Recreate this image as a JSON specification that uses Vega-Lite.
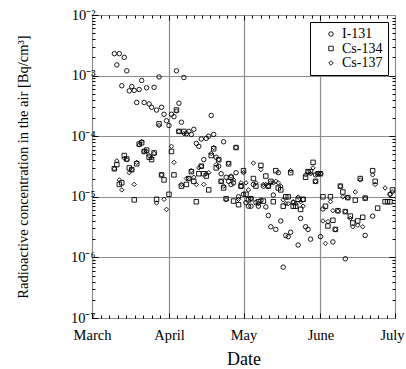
{
  "$schema": "https://vega.github.io/schema/vega-lite/v6.json",
  "width": 303,
  "height": 303,
  "autosize": {"type": "none"},
  "padding": {"left": 92, "top": 15, "right": 11, "bottom": 51},
  "background": "white",
  "config": {
    "font": "Liberation Serif",
    "view": {"stroke": "black", "strokeWidth": 1},
    "axis": {"domain": false, "tickColor": "black", "labelColor": "black", "titleColor": "black", "labelFont": "Liberation Serif", "titleFont": "Liberation Serif", "labelFontSize": 14.5, "titleFontSize": 14.5, "titleFontWeight": "normal", "gridColor": "#8c8c8c", "gridWidth": 1.2, "gridOpacity": 1},
    "legend": {"orient": "none", "legendX": 218, "legendY": 7, "strokeColor": "black", "fillColor": "white", "padding": 5, "labelFont": "Liberation Serif", "labelFontSize": 14, "labelColor": "black", "symbolStrokeColor": "black", "symbolStrokeWidth": 0.9, "symbolSize": 20, "symbolOffset": 9, "labelOffset": 4, "rowPadding": 0.5}
  },
  "data": {"values": [
    {"date": "2011-03-10", "I-131": 2.3e-3, "Cs-134": 2.9e-5, "Cs-137": 2.9e-5},
    {"date": "2011-03-11", "I-131": 1.5e-3, "Cs-134": 3.4e-5, "Cs-137": 3.9e-5},
    {"date": "2011-03-12", "I-131": 2.3e-3, "Cs-134": 1.6e-5, "Cs-137": 1.9e-5},
    {"date": "2011-03-13", "I-131": 6.8e-4, "Cs-134": 1.7e-5, "Cs-137": 1.3e-5},
    {"date": "2011-03-14", "I-131": 2.0e-3, "Cs-134": 4.8e-5, "Cs-137": 4.3e-5},
    {"date": "2011-03-15", "I-131": 1.2e-3, "Cs-134": 4.2e-5, "Cs-137": 4.1e-5},
    {"date": "2011-03-16", "I-131": 5.6e-4, "Cs-134": 3.0e-5, "Cs-137": 2.5e-5},
    {"date": "2011-03-17", "I-131": 6.6e-4, "Cs-134": 2.8e-5, "Cs-137": 2.8e-5},
    {"date": "2011-03-18", "I-131": 5.7e-4, "Cs-134": 8.9e-6, "Cs-137": 1.6e-5},
    {"date": "2011-03-19", "I-131": 3.6e-4, "Cs-134": 3.5e-5, "Cs-137": 3.7e-5},
    {"date": "2011-03-20", "I-131": 5.9e-4, "Cs-134": 7.4e-5, "Cs-137": 7.2e-5},
    {"date": "2011-03-21", "I-131": 8.3e-4, "Cs-134": 7.8e-5, "Cs-137": 8.2e-5},
    {"date": "2011-03-22", "I-131": 3.6e-4, "Cs-134": 5.6e-5, "Cs-137": 5.6e-5},
    {"date": "2011-03-23", "I-131": 6.3e-4, "Cs-134": 5.9e-5, "Cs-137": 5.6e-5},
    {"date": "2011-03-24", "I-131": 3.4e-4, "Cs-134": 4.5e-5, "Cs-137": 4.8e-5},
    {"date": "2011-03-25", "I-131": 3.0e-4, "Cs-134": 4.1e-5, "Cs-137": 4.4e-5},
    {"date": "2011-03-26", "I-131": 6.4e-4, "Cs-134": 5.3e-5, "Cs-137": 5.2e-5},
    {"date": "2011-03-27", "I-131": 2.7e-4, "Cs-134": 9.1e-6, "Cs-137": 7.9e-6},
    {"date": "2011-03-28", "I-131": 9.5e-4, "Cs-134": 1.6e-4, "Cs-137": 1.5e-4},
    {"date": "2011-03-29", "I-131": 3.0e-4, "Cs-134": 2.3e-5, "Cs-137": 2.3e-5},
    {"date": "2011-03-30", "I-131": 2.3e-4, "Cs-134": 1.9e-5, "Cs-137": 9.1e-6},
    {"date": "2011-03-31", "I-131": 1.8e-4, "Cs-137": 6.2e-6},
    {"date": "2011-04-01", "I-131": 1.5e-4, "Cs-134": 1.1e-5},
    {"date": "2011-04-02", "I-131": 2.3e-4, "Cs-134": 5.6e-5, "Cs-137": 6.8e-5},
    {"date": "2011-04-03", "I-131": 2.1e-4, "Cs-134": 2.3e-5, "Cs-137": 3.7e-5},
    {"date": "2011-04-04", "I-131": 1.2e-3, "Cs-134": 2.7e-4, "Cs-137": 2.6e-4},
    {"date": "2011-04-05", "I-131": 3.5e-4, "Cs-134": 1.2e-4, "Cs-137": 1.2e-4},
    {"date": "2011-04-06", "I-131": 1.7e-4, "Cs-134": 1.5e-5, "Cs-137": 1.6e-5},
    {"date": "2011-04-07", "I-131": 9.3e-4, "Cs-134": 1.2e-4, "Cs-137": 1.1e-4},
    {"date": "2011-04-08", "I-131": 1.1e-4, "Cs-134": 1.6e-5, "Cs-137": 2.0e-5},
    {"date": "2011-04-09", "I-131": 1.2e-4, "Cs-134": 2.0e-5, "Cs-137": 2.0e-5},
    {"date": "2011-04-10", "I-131": 1.07e-4, "Cs-134": 2.6e-5, "Cs-137": 2.7e-5},
    {"date": "2011-04-11", "I-131": 1.3e-4, "Cs-134": 1.8e-5, "Cs-137": 2.1e-5},
    {"date": "2011-04-12", "I-131": 7.6e-5, "Cs-134": 8.3e-6, "Cs-137": 1.6e-5},
    {"date": "2011-04-13", "I-131": 6.8e-5, "Cs-134": 2.4e-5, "Cs-137": 3.0e-5},
    {"date": "2011-04-14", "I-131": 9.0e-5, "Cs-134": 3.2e-5, "Cs-137": 3.2e-5},
    {"date": "2011-04-15", "I-131": 4.1e-5, "Cs-134": 2.4e-5, "Cs-137": 1.6e-5},
    {"date": "2011-04-16", "I-131": 9.2e-5, "Cs-134": 2.2e-5, "Cs-137": 2.4e-5},
    {"date": "2011-04-17", "I-131": 1.0e-4, "Cs-134": 1.3e-5, "Cs-137": 2.5e-5},
    {"date": "2011-04-18", "I-131": 2.2e-4, "Cs-134": 4.8e-5, "Cs-137": 5.2e-5},
    {"date": "2011-04-19", "I-131": 1.07e-4, "Cs-134": 6.2e-5, "Cs-137": 6.5e-5},
    {"date": "2011-04-20", "I-131": 4.5e-5, "Cs-134": 3.0e-5, "Cs-137": 3.4e-5},
    {"date": "2011-04-21", "I-131": 3.2e-5, "Cs-134": 4.1e-5, "Cs-137": 4.1e-5},
    {"date": "2011-04-22", "I-131": 2.4e-5, "Cs-134": 1.8e-5, "Cs-137": 1.8e-5},
    {"date": "2011-04-23", "I-131": 8.1e-5, "Cs-134": 1.4e-5, "Cs-137": 1.5e-5},
    {"date": "2011-04-24", "I-131": 2.1e-5, "Cs-134": 9.3e-6, "Cs-137": 8.9e-6},
    {"date": "2011-04-25", "I-131": 1.8e-5, "Cs-134": 3.5e-5, "Cs-137": 3.6e-5},
    {"date": "2011-04-26", "I-131": 1.6e-5, "Cs-134": 2.1e-5, "Cs-137": 2.2e-5},
    {"date": "2011-04-27", "I-131": 1.7e-5, "Cs-134": 8.5e-6, "Cs-137": 1.9e-5},
    {"date": "2011-04-28", "I-131": 2.5e-5, "Cs-134": 6.5e-5, "Cs-137": 6.5e-5},
    {"date": "2011-04-29", "I-131": 1.0e-5, "Cs-134": 7.4e-6, "Cs-137": 9.1e-6},
    {"date": "2011-04-30", "I-131": 1.5e-5, "Cs-134": 1.5e-5, "Cs-137": 1.7e-5},
    {"date": "2011-05-01", "I-131": 1.1e-5, "Cs-134": 2.7e-5, "Cs-137": 2.5e-5},
    {"date": "2011-05-02", "I-131": 8.0e-6, "Cs-134": 1.1e-5, "Cs-137": 1.7e-5},
    {"date": "2011-05-03", "I-131": 7.0e-6, "Cs-134": 8.9e-6, "Cs-137": 1.3e-5},
    {"date": "2011-05-04", "I-131": 7.0e-6, "Cs-134": 9.3e-6, "Cs-137": 9.3e-6},
    {"date": "2011-05-05", "I-131": 1.6e-5, "Cs-134": 2.0e-5, "Cs-137": 3.6e-5},
    {"date": "2011-05-06", "I-131": 8.0e-6, "Cs-134": 1.5e-5, "Cs-137": 1.7e-5},
    {"date": "2011-05-07", "I-131": 7.0e-6, "Cs-134": 8.3e-6, "Cs-137": 7.7e-6},
    {"date": "2011-05-08", "I-131": 8.7e-6, "Cs-134": 3.3e-5, "Cs-137": 2.8e-5},
    {"date": "2011-05-09", "I-131": 1.5e-5, "Cs-134": 8.5e-6, "Cs-137": 1.6e-5},
    {"date": "2011-05-10", "I-131": 6.8e-6, "Cs-134": 2.2e-5, "Cs-137": 1.6e-5},
    {"date": "2011-05-11", "I-131": 4.9e-6, "Cs-134": 1.5e-5, "Cs-137": 1.5e-5},
    {"date": "2011-05-12", "I-131": 3.2e-6, "Cs-134": 1.8e-5, "Cs-137": 1.7e-5},
    {"date": "2011-05-13", "I-131": 1.07e-5, "Cs-134": 8.3e-6, "Cs-137": 1.7e-5},
    {"date": "2011-05-14", "I-131": 2.9e-6, "Cs-134": 2.7e-5, "Cs-137": 1.8e-5},
    {"date": "2011-05-15", "I-131": 2.5e-5, "Cs-134": 1.4e-5, "Cs-137": 1.7e-5},
    {"date": "2011-05-16", "I-131": 4.0e-6, "Cs-134": 1.3e-5, "Cs-137": 1.5e-5},
    {"date": "2011-05-17", "I-131": 6.9e-7, "Cs-134": 7.0e-6, "Cs-137": 8.9e-6},
    {"date": "2011-05-18", "I-131": 2.3e-6, "Cs-134": 1.0e-5, "Cs-137": 7.7e-6},
    {"date": "2011-05-19", "I-131": 2.2e-6, "Cs-134": 1.0e-5, "Cs-137": 7.7e-6},
    {"date": "2011-05-20", "I-131": 2.6e-6, "Cs-134": 2.5e-5, "Cs-137": 2.7e-5},
    {"date": "2011-05-21", "I-131": 8.0e-6, "Cs-134": 7.0e-6, "Cs-137": 8.3e-6},
    {"date": "2011-05-22", "Cs-134": 7.0e-6, "Cs-137": 7.7e-6},
    {"date": "2011-05-23", "I-131": 1.6e-6, "Cs-134": 9.1e-6, "Cs-137": 9.9e-6},
    {"date": "2011-05-24", "I-131": 4.4e-6, "Cs-134": 6.2e-6, "Cs-137": 8.3e-6},
    {"date": "2011-05-25", "I-131": 9.0e-6, "Cs-134": 9.1e-6, "Cs-137": 7.0e-6},
    {"date": "2011-05-26", "I-131": 3.2e-6, "Cs-134": 2.1e-5, "Cs-137": 2.3e-5},
    {"date": "2011-05-27", "I-131": 2.9e-6, "Cs-134": 2.6e-5, "Cs-137": 2.6e-5},
    {"date": "2011-05-28", "I-131": 2.0e-6, "Cs-134": 2.6e-5, "Cs-137": 2.4e-5},
    {"date": "2011-05-29", "Cs-134": 3.7e-5, "Cs-137": 3.0e-5},
    {"date": "2011-05-30", "I-131": 2.3e-5, "Cs-134": 1.8e-5, "Cs-137": 1.8e-5},
    {"date": "2011-05-31", "Cs-134": 2.4e-5, "Cs-137": 2.4e-5},
    {"date": "2011-06-01", "I-131": 2.2e-6, "Cs-134": 2.4e-5, "Cs-137": 2.4e-5},
    {"date": "2011-06-02", "I-131": 6.3e-6, "Cs-134": 1.0e-5, "Cs-137": 4.0e-6},
    {"date": "2011-06-03", "Cs-134": 7.0e-6, "Cs-137": 1.7e-6},
    {"date": "2011-06-04", "Cs-134": 3.3e-6, "Cs-137": 3.9e-6},
    {"date": "2011-06-05", "Cs-134": 1.0e-5, "Cs-137": 8.3e-6},
    {"date": "2011-06-06", "I-131": 1.8e-6, "Cs-134": 4.1e-6, "Cs-137": 5.9e-6},
    {"date": "2011-06-07", "Cs-134": 2.9e-6, "Cs-137": 2.9e-6},
    {"date": "2011-06-08", "Cs-134": 5.9e-6, "Cs-137": 5.8e-6},
    {"date": "2011-06-09", "Cs-134": 1.5e-5, "Cs-137": 1.5e-5},
    {"date": "2011-06-10", "Cs-134": 1.2e-5, "Cs-137": 1.0e-5},
    {"date": "2011-06-11", "I-131": 9.5e-7, "Cs-134": 5.7e-6, "Cs-137": 5.7e-6},
    {"date": "2011-06-12", "Cs-134": 9.7e-6, "Cs-137": 9.7e-6},
    {"date": "2011-06-13", "Cs-134": 4.8e-6, "Cs-137": 4.4e-6},
    {"date": "2011-06-14", "Cs-134": 3.7e-6, "Cs-137": 3.2e-6},
    {"date": "2011-06-15", "Cs-134": 8.8e-6, "Cs-137": 1.2e-5},
    {"date": "2011-06-16", "Cs-134": 4.0e-6, "Cs-137": 3.4e-6},
    {"date": "2011-06-17", "Cs-134": 2.0e-5, "Cs-137": 1.9e-5},
    {"date": "2011-06-18", "Cs-134": 4.6e-6, "Cs-137": 3.2e-6},
    {"date": "2011-06-19", "I-131": 2.3e-6, "Cs-134": 9.5e-6, "Cs-137": 9.5e-6},
    {"date": "2011-06-22", "I-131": 4.8e-6, "Cs-134": 2.7e-5, "Cs-137": 2.3e-5},
    {"date": "2011-06-23", "Cs-134": 1.8e-5, "Cs-137": 1.6e-5},
    {"date": "2011-06-24", "Cs-134": 6.5e-6},
    {"date": "2011-06-27", "Cs-134": 8.3e-6, "Cs-137": 1.4e-5},
    {"date": "2011-06-28", "Cs-134": 8.3e-6},
    {"date": "2011-06-29", "I-131": 1.1e-5, "Cs-134": 8.3e-6, "Cs-137": 1.1e-5},
    {"date": "2011-06-30", "Cs-134": 1.3e-5, "Cs-137": 1.2e-5}
  ]},
  "transform": [
    {"fold": ["I-131", "Cs-134", "Cs-137"], "as": ["nuclide", "conc"]},
    {"filter": "isValid(datum.conc)"}
  ],
  "layer": [
    {
      "mark": {"type": "point", "filled": false, "strokeWidth": 0.9, "color": "black", "opacity": 1, "size": 20},
      "encoding": {
        "x": {"field": "date", "type": "temporal",
          "scale": {"type": "utc", "domain": [{"year": 2011, "month": 3, "date": 1, "utc": true}, {"year": 2011, "month": 7, "date": 1, "utc": true}]},
          "axis": {"orient": "bottom", "values": [{"year": 2011, "month": 3, "date": 1, "utc": true}, {"year": 2011, "month": 4, "date": 1, "utc": true}, {"year": 2011, "month": 5, "date": 1, "utc": true}, {"year": 2011, "month": 6, "date": 1, "utc": true}, {"year": 2011, "month": 7, "date": 1, "utc": true}],
            "labelExpr": "utcFormat(datum.value, '%B')", "grid": true, "tickSize": -5, "labelPadding": 15, "labelFlush": false, "labelOverlap": false,
            "labelOffset": {"condition": {"test": "utcmonth(datum.value) == 6", "value": -3}, "value": 0},
            "title": "Date", "titleFontSize": 18, "titlePadding": 9}},
        "y": {"field": "conc", "type": "quantitative",
          "scale": {"type": "log", "domain": [1e-7, 1e-2]},
          "axis": {"orient": "left", "values": [1e-7, 1e-6, 1e-5, 1e-4, 1e-3, 1e-2],
            "labelExpr": "datum.value < 5e-7 ? '10⁻⁷' : datum.value < 5e-6 ? '10⁻⁶' : datum.value < 5e-5 ? '10⁻⁵' : datum.value < 5e-4 ? '10⁻⁴' : datum.value < 5e-3 ? '10⁻³' : '10⁻²'",
            "grid": true, "tickSize": -6, "labelPadding": 3, "labelFlush": false, "labelOverlap": false,
            "title": "Radioactive concentration in the air [Bq/cm³]", "titleX": -62, "titleY": 151.5}},
        "shape": {"field": "nuclide", "type": "nominal",
          "scale": {"domain": ["I-131", "Cs-134", "Cs-137"], "range": ["circle", "square", "diamond"]},
          "legend": {"title": null}}
      }
    },
    {
      "mark": {"type": "point", "opacity": 0},
      "encoding": {
        "x": {"field": "date", "type": "temporal",
          "scale": {"type": "utc", "domain": [{"year": 2011, "month": 3, "date": 1, "utc": true}, {"year": 2011, "month": 7, "date": 1, "utc": true}]},
          "axis": {"orient": "top", "values": [{"year": 2011, "month": 4, "date": 1, "utc": true}, {"year": 2011, "month": 5, "date": 1, "utc": true}, {"year": 2011, "month": 6, "date": 1, "utc": true}],
            "labels": false, "grid": false, "tickSize": -5, "title": null}},
        "y": {"field": "conc", "type": "quantitative",
          "scale": {"type": "log", "domain": [1e-7, 1e-2]},
          "axis": {"orient": "right", "values": [1e-6, 1e-5, 1e-4, 1e-3],
            "labels": false, "grid": false, "tickSize": -6, "title": null}}
      }
    },
    {
      "mark": {"type": "point", "opacity": 0},
      "encoding": {
        "x": {"field": "date", "type": "temporal",
          "scale": {"type": "utc", "domain": [{"year": 2011, "month": 3, "date": 1, "utc": true}, {"year": 2011, "month": 7, "date": 1, "utc": true}]},
          "axis": {"orient": "bottom", "values": [
            {"year": 2011, "month": 3, "date": 4, "hours": 10, "minutes": 40, "utc": true},
            {"year": 2011, "month": 3, "date": 7, "hours": 21, "minutes": 20, "utc": true},
            {"year": 2011, "month": 3, "date": 11, "hours": 8, "utc": true},
            {"year": 2011, "month": 3, "date": 14, "hours": 18, "minutes": 40, "utc": true},
            {"year": 2011, "month": 3, "date": 18, "hours": 5, "minutes": 20, "utc": true},
            {"year": 2011, "month": 3, "date": 21, "hours": 16, "utc": true},
            {"year": 2011, "month": 3, "date": 25, "hours": 2, "minutes": 40, "utc": true},
            {"year": 2011, "month": 3, "date": 28, "hours": 13, "minutes": 20, "utc": true},
            {"year": 2011, "month": 4, "date": 4, "hours": 8, "utc": true},
            {"year": 2011, "month": 4, "date": 7, "hours": 16, "utc": true},
            {"year": 2011, "month": 4, "date": 11, "utc": true},
            {"year": 2011, "month": 4, "date": 14, "hours": 8, "utc": true},
            {"year": 2011, "month": 4, "date": 17, "hours": 16, "utc": true},
            {"year": 2011, "month": 4, "date": 21, "utc": true},
            {"year": 2011, "month": 4, "date": 24, "hours": 8, "utc": true},
            {"year": 2011, "month": 4, "date": 27, "hours": 16, "utc": true},
            {"year": 2011, "month": 5, "date": 4, "hours": 10, "minutes": 40, "utc": true},
            {"year": 2011, "month": 5, "date": 7, "hours": 21, "minutes": 20, "utc": true},
            {"year": 2011, "month": 5, "date": 11, "hours": 8, "utc": true},
            {"year": 2011, "month": 5, "date": 14, "hours": 18, "minutes": 40, "utc": true},
            {"year": 2011, "month": 5, "date": 18, "hours": 5, "minutes": 20, "utc": true},
            {"year": 2011, "month": 5, "date": 21, "hours": 16, "utc": true},
            {"year": 2011, "month": 5, "date": 25, "hours": 2, "minutes": 40, "utc": true},
            {"year": 2011, "month": 5, "date": 28, "hours": 13, "minutes": 20, "utc": true},
            {"year": 2011, "month": 6, "date": 4, "hours": 8, "utc": true},
            {"year": 2011, "month": 6, "date": 7, "hours": 16, "utc": true},
            {"year": 2011, "month": 6, "date": 11, "utc": true},
            {"year": 2011, "month": 6, "date": 14, "hours": 8, "utc": true},
            {"year": 2011, "month": 6, "date": 17, "hours": 16, "utc": true},
            {"year": 2011, "month": 6, "date": 21, "utc": true},
            {"year": 2011, "month": 6, "date": 24, "hours": 8, "utc": true},
            {"year": 2011, "month": 6, "date": 27, "hours": 16, "utc": true}],
            "labels": false, "grid": false, "tickSize": -3, "title": null}},
        "y": {"field": "conc", "type": "quantitative",
          "scale": {"type": "log", "domain": [1e-7, 1e-2]},
          "axis": {"orient": "left", "values": [2e-7, 3e-7, 4e-7, 5e-7, 6e-7, 7e-7, 8e-7, 9e-7, 2e-6, 3e-6, 4e-6, 5e-6, 6e-6, 7e-6, 8e-6, 9e-6, 2e-5, 3e-5, 4e-5, 5e-5, 6e-5, 7e-5, 8e-5, 9e-5, 2e-4, 3e-4, 4e-4, 5e-4, 6e-4, 7e-4, 8e-4, 9e-4, 2e-3, 3e-3, 4e-3, 5e-3, 6e-3, 7e-3, 8e-3, 9e-3],
            "labels": false, "grid": false, "tickSize": -3, "title": null}}
      }
    },
    {
      "mark": {"type": "point", "opacity": 0},
      "encoding": {
        "x": {"field": "date", "type": "temporal",
          "scale": {"type": "utc", "domain": [{"year": 2011, "month": 3, "date": 1, "utc": true}, {"year": 2011, "month": 7, "date": 1, "utc": true}]},
          "axis": {"orient": "top", "values": [
            {"year": 2011, "month": 3, "date": 4, "hours": 10, "minutes": 40, "utc": true},
            {"year": 2011, "month": 3, "date": 7, "hours": 21, "minutes": 20, "utc": true},
            {"year": 2011, "month": 3, "date": 11, "hours": 8, "utc": true},
            {"year": 2011, "month": 3, "date": 14, "hours": 18, "minutes": 40, "utc": true},
            {"year": 2011, "month": 3, "date": 18, "hours": 5, "minutes": 20, "utc": true},
            {"year": 2011, "month": 3, "date": 21, "hours": 16, "utc": true},
            {"year": 2011, "month": 3, "date": 25, "hours": 2, "minutes": 40, "utc": true},
            {"year": 2011, "month": 3, "date": 28, "hours": 13, "minutes": 20, "utc": true},
            {"year": 2011, "month": 4, "date": 4, "hours": 8, "utc": true},
            {"year": 2011, "month": 4, "date": 7, "hours": 16, "utc": true},
            {"year": 2011, "month": 4, "date": 11, "utc": true},
            {"year": 2011, "month": 4, "date": 14, "hours": 8, "utc": true},
            {"year": 2011, "month": 4, "date": 17, "hours": 16, "utc": true},
            {"year": 2011, "month": 4, "date": 21, "utc": true},
            {"year": 2011, "month": 4, "date": 24, "hours": 8, "utc": true},
            {"year": 2011, "month": 4, "date": 27, "hours": 16, "utc": true},
            {"year": 2011, "month": 5, "date": 4, "hours": 10, "minutes": 40, "utc": true},
            {"year": 2011, "month": 5, "date": 7, "hours": 21, "minutes": 20, "utc": true},
            {"year": 2011, "month": 5, "date": 11, "hours": 8, "utc": true},
            {"year": 2011, "month": 5, "date": 14, "hours": 18, "minutes": 40, "utc": true},
            {"year": 2011, "month": 5, "date": 18, "hours": 5, "minutes": 20, "utc": true},
            {"year": 2011, "month": 5, "date": 21, "hours": 16, "utc": true},
            {"year": 2011, "month": 5, "date": 25, "hours": 2, "minutes": 40, "utc": true},
            {"year": 2011, "month": 5, "date": 28, "hours": 13, "minutes": 20, "utc": true},
            {"year": 2011, "month": 6, "date": 4, "hours": 8, "utc": true},
            {"year": 2011, "month": 6, "date": 7, "hours": 16, "utc": true},
            {"year": 2011, "month": 6, "date": 11, "utc": true},
            {"year": 2011, "month": 6, "date": 14, "hours": 8, "utc": true},
            {"year": 2011, "month": 6, "date": 17, "hours": 16, "utc": true},
            {"year": 2011, "month": 6, "date": 21, "utc": true},
            {"year": 2011, "month": 6, "date": 24, "hours": 8, "utc": true},
            {"year": 2011, "month": 6, "date": 27, "hours": 16, "utc": true}],
            "labels": false, "grid": false, "tickSize": -3, "title": null}},
        "y": {"field": "conc", "type": "quantitative",
          "scale": {"type": "log", "domain": [1e-7, 1e-2]},
          "axis": {"orient": "right", "values": [2e-7, 3e-7, 4e-7, 5e-7, 6e-7, 7e-7, 8e-7, 9e-7, 2e-6, 3e-6, 4e-6, 5e-6, 6e-6, 7e-6, 8e-6, 9e-6, 2e-5, 3e-5, 4e-5, 5e-5, 6e-5, 7e-5, 8e-5, 9e-5, 2e-4, 3e-4, 4e-4, 5e-4, 6e-4, 7e-4, 8e-4, 9e-4, 2e-3, 3e-3, 4e-3, 5e-3, 6e-3, 7e-3, 8e-3, 9e-3],
            "labels": false, "grid": false, "tickSize": -3, "title": null}}
      }
    }
  ],
  "resolve": {"axis": {"x": "independent", "y": "independent"}}
}
